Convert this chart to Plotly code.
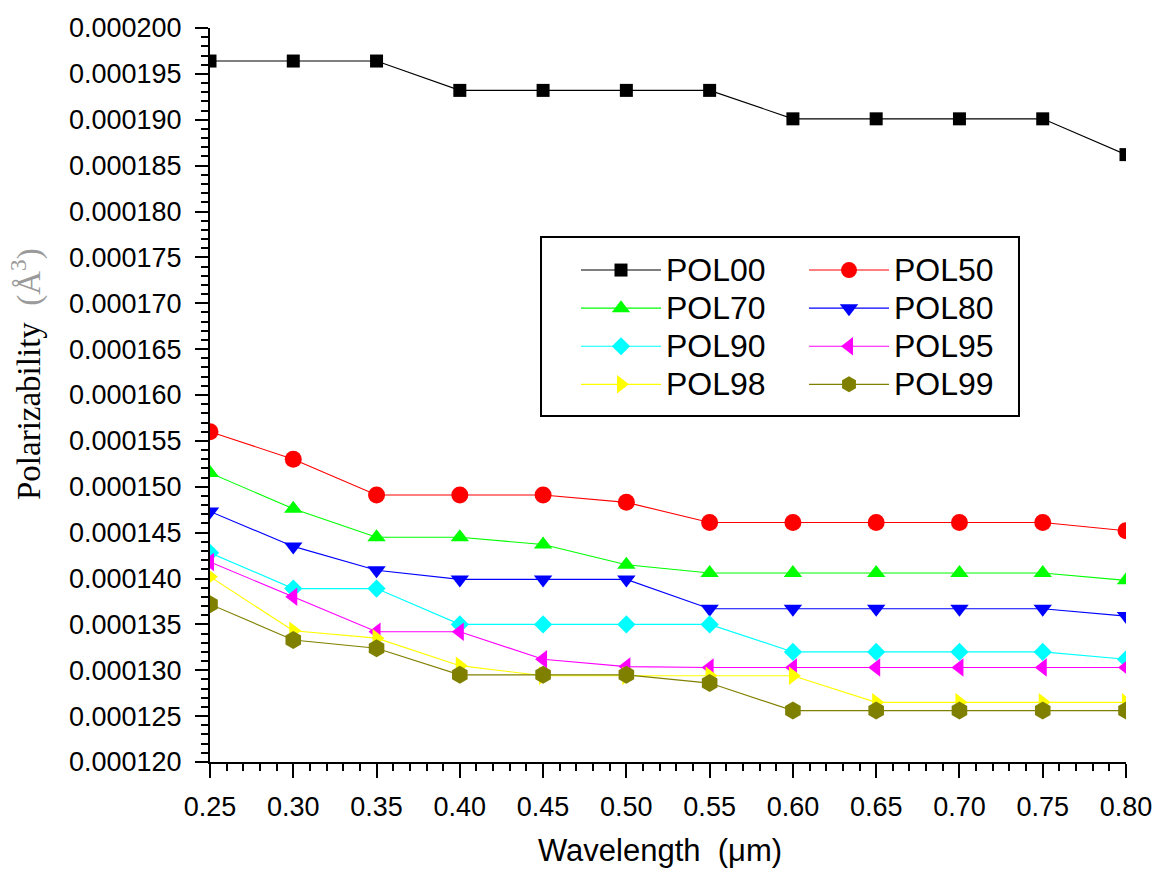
import plotly.graph_objects as go

# Wavelength (µm) and polarizability (Å^3) for each sample
wavelength = [0.25, 0.30, 0.35, 0.40, 0.45, 0.50, 0.55, 0.60, 0.65, 0.70, 0.75, 0.80]

POL00 = [0.0001964, 0.0001964, 0.0001964, 0.0001932, 0.0001932, 0.0001932,
         0.0001932, 0.0001901, 0.0001901, 0.0001901, 0.0001901, 0.0001862]
POL50 = [0.0001560, 0.0001530, 0.0001491, 0.0001491, 0.0001491, 0.0001483,
         0.0001461, 0.0001461, 0.0001461, 0.0001461, 0.0001461, 0.0001452]
POL70 = [0.0001515, 0.0001476, 0.0001445, 0.0001445, 0.0001437, 0.0001415,
         0.0001406, 0.0001406, 0.0001406, 0.0001406, 0.0001406, 0.0001398]
POL80 = [0.0001473, 0.0001435, 0.0001409, 0.0001399, 0.0001399, 0.0001399,
         0.0001367, 0.0001367, 0.0001367, 0.0001367, 0.0001367, 0.0001359]
POL90 = [0.0001428, 0.0001389, 0.0001389, 0.0001350, 0.0001350, 0.0001350,
         0.0001350, 0.0001320, 0.0001320, 0.0001320, 0.0001320, 0.0001312]
POL95 = [0.0001418, 0.0001380, 0.0001342, 0.0001342, 0.0001312, 0.0001304,
         0.0001303, 0.0001303, 0.0001303, 0.0001303, 0.0001303, 0.0001303]
POL98 = [0.0001402, 0.0001343, 0.0001335, 0.0001305, 0.0001294, 0.0001294,
         0.0001294, 0.0001294, 0.0001265, 0.0001265, 0.0001265, 0.0001265]
POL99 = [0.0001372, 0.0001333, 0.0001324, 0.0001295, 0.0001295, 0.0001295,
         0.0001286, 0.0001256, 0.0001256, 0.0001256, 0.0001256, 0.0001256]

series = [
    ("POL00", POL00, "#000000", "square", 13, "legend"),
    ("POL50", POL50, "#FF0000", "circle", 17, "legend2"),
    ("POL70", POL70, "#00FF00", "triangle-up", 16, "legend"),
    ("POL80", POL80, "#0000FF", "triangle-down", 16, "legend2"),
    ("POL90", POL90, "#00FFFF", "diamond", 14, "legend"),
    ("POL95", POL95, "#FF00FF", "triangle-left", 16, "legend2"),
    ("POL98", POL98, "#FFFF00", "triangle-right", 16, "legend"),
    ("POL99", POL99, "#808000", "hexagon", 18, "legend2"),
]

# plot-area pixel geometry
W, H = 1157, 874
ML, MR, MT, MB = 210, 31, 28, 112
PW, PH = W - ML - MR, H - MT - MB


def px_x(p):
    return (p - ML) / PW


def px_y(p):
    return (H - MB - p) / PH


SANS = "Liberation Sans, Arial, sans-serif"
SERIF = "Liberation Serif, Times New Roman, serif"

fig = go.Figure()
for name, vals, color, symbol, size, leg in series:
    fig.add_trace(go.Scatter(
        x=wavelength, y=vals, mode="lines+markers",
        name=f"<span style='font-size:32px'>{name}</span>",
        line=dict(color=color, width=1.1),
        marker=dict(symbol=symbol, size=size, color=color, line=dict(width=0)),
        legend=leg,
    ))

tick_font = dict(family=SANS, size=27, color="#000000")
legend_common = dict(
    font=dict(family=SANS, size=27, color="#000000"),
    bgcolor="rgba(0,0,0,0)", borderwidth=0, itemwidth=80,
    xanchor="left", yanchor="top", tracegroupgap=0,
)

fig.update_layout(
    width=W, height=H, autosize=False,
    margin=dict(l=ML, r=MR, t=MT, b=MB),
    paper_bgcolor="white", plot_bgcolor="white",
    showlegend=True,
    legend=dict(x=px_x(576), y=px_y(246), **legend_common),
    legend2=dict(x=px_x(804), y=px_y(246), **legend_common),
    xaxis=dict(
        range=[0.25, 0.80], tickmode="linear", tick0=0.25, dtick=0.05,
        tickformat=".2f", ticks="outside", ticklen=14, tickwidth=2, tickcolor="black",
        showline=True, linewidth=2, linecolor="black", mirror=False, automargin=False,
        showgrid=False, zeroline=False, tickfont=tick_font, ticklabelstandoff=6,
        minor=dict(dtick=0.01, tick0=0.25, ticks="outside", ticklen=7, tickwidth=2,
                   tickcolor="black", showgrid=False),
    ),
    yaxis=dict(
        range=[0.000120, 0.000200], tickmode="linear", tick0=0.000120, dtick=0.000005,
        tickformat=".6f", ticks="outside", ticklen=13, tickwidth=2, tickcolor="black",
        showline=True, linewidth=2, linecolor="black", mirror=False, automargin=False,
        showgrid=False, zeroline=False, tickfont=tick_font, ticklabelstandoff=8,
        minor=dict(dtick=0.000001, tick0=0.000120, ticks="outside", ticklen=7, tickwidth=2,
                   tickcolor="black", showgrid=False),
    ),
    annotations=[
        # axis titles
        dict(text="Wavelength  (\u03bcm)", xref="paper", yref="paper",
             x=px_x(660), y=px_y(850), xanchor="center", yanchor="middle",
             showarrow=False, font=dict(family=SANS, size=31, color="#000000")),
        dict(text="Polarizability  <span style='color:#9a9a9a'>(\u00c5<sup>3</sup>)</span>",
             xref="paper", yref="paper", x=px_x(26), y=px_y(374),
             xanchor="center", yanchor="middle", textangle=-90,
             showarrow=False, font=dict(family=SERIF, size=33, color="#000000")),
    ],
    shapes=[dict(type="rect", xref="paper", yref="paper",
                 x0=px_x(541), x1=px_x(1019), y0=px_y(416), y1=px_y(237),
                 line=dict(color="black", width=2), fillcolor="rgba(0,0,0,0)")],
)

fig.write_html("out.html")
